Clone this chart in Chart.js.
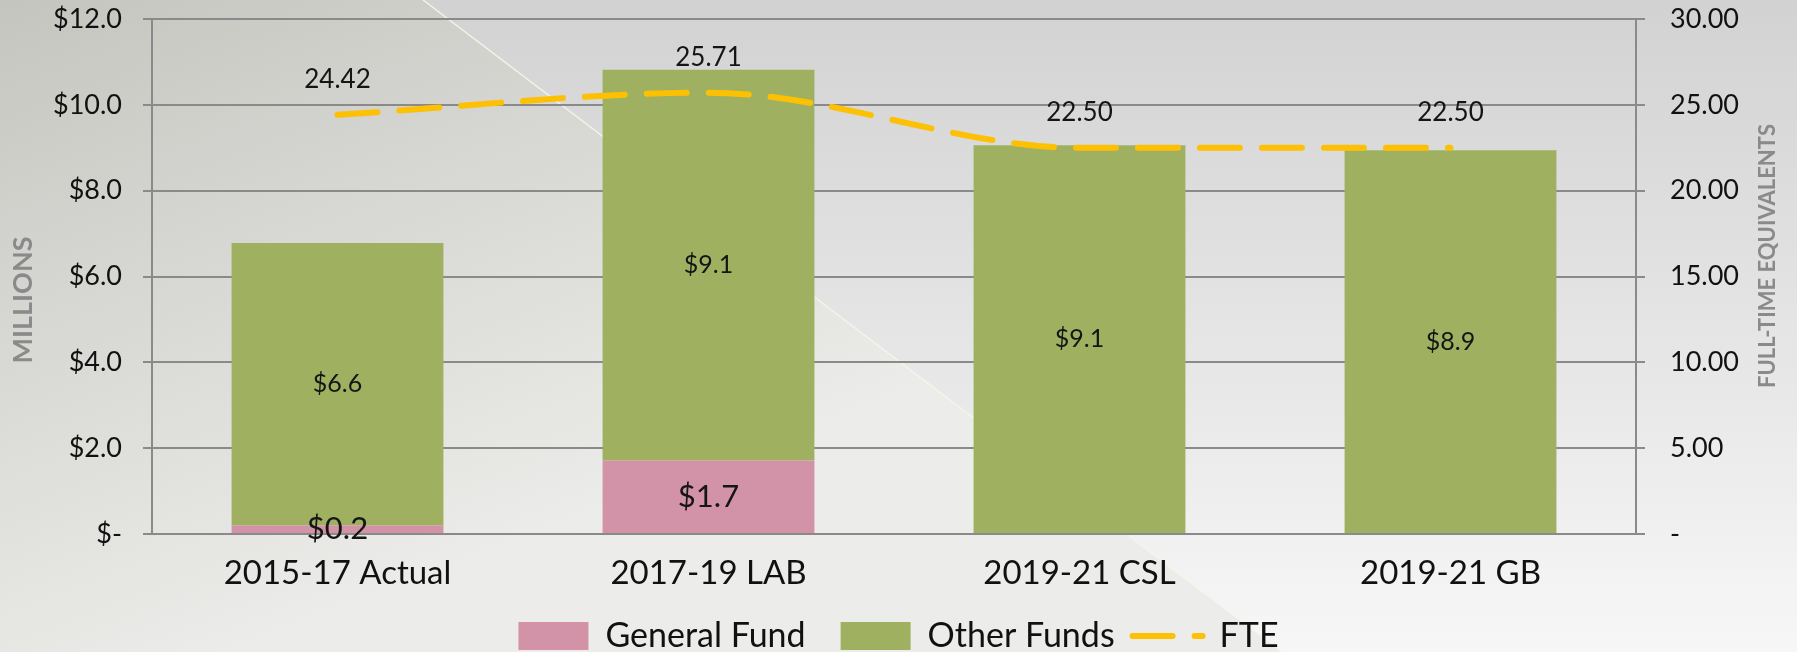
<!DOCTYPE html>
<html>
<head>
<meta charset="utf-8">
<script src="https://cdn.jsdelivr.net/npm/chart.js@4.4.1/dist/chart.umd.min.js"></script>
<style>
  html, body { margin: 0; padding: 0; background: #e6e6e3; }
  canvas { display: block; }
</style>
</head>
<body>
<canvas id="myChart" width="1797" height="652"></canvas>
<script>
// values (millions / FTE)
var categories = ["2015-17 Actual", "2017-19 LAB", "2019-21 CSL", "2019-21 GB"];
var generalFund = [0.2, 1.71, 0, 0];
var otherFunds = [6.58, 9.11, 9.06, 8.94];
var fte = [24.42, 25.71, 22.50, 22.50];
var moneyTicks = ["$-", "$2.0", "$4.0", "$6.0", "$8.0", "$10.0", "$12.0"];
var fteTicks = ["-", "5.00", "10.00", "15.00", "20.00", "25.00", "30.00"];

var FONT = "Lato, 'Open Sans', sans-serif";
var FTE_DASH = [40, 22];

// slide background: two gray panels split by a diagonal
var slideBackground = {
  id: "slideBackground",
  beforeDraw: function(chart) {
    var ctx = chart.ctx, w = chart.width, h = chart.height;
    ctx.save();
    var g1 = ctx.createLinearGradient(0, 0, 250, h);
    g1.addColorStop(0, "#c5c5c0");
    g1.addColorStop(1, "#ececea");
    ctx.fillStyle = g1;
    ctx.beginPath();
    ctx.moveTo(0, 0); ctx.lineTo(423, 0); ctx.lineTo(1282, h); ctx.lineTo(0, h);
    ctx.closePath();
    ctx.fill();
    var g2 = ctx.createLinearGradient(0, 0, 0, h);
    g2.addColorStop(0, "#d2d2d2");
    g2.addColorStop(1, "#f7f7f7");
    ctx.fillStyle = g2;
    ctx.beginPath();
    ctx.moveTo(423, 0); ctx.lineTo(w, 0); ctx.lineTo(w, h); ctx.lineTo(1282, h);
    ctx.closePath();
    ctx.fill();
    ctx.strokeStyle = "rgba(245,245,235,0.9)";
    ctx.lineWidth = 1.5;
    ctx.beginPath();
    ctx.moveTo(423, 0); ctx.lineTo(1282, h);
    ctx.stroke();
    ctx.restore();
  }
};

// data labels in the bars and above the FTE line
var valueLabels = {
  id: "valueLabels",
  afterDatasetsDraw: function(chart) {
    var ctx = chart.ctx;
    ctx.save();
    ctx.fillStyle = "#151515";
    ctx.textAlign = "center";
    ctx.textBaseline = "middle";
    chart.data.datasets.forEach(function(ds, i) {
      var meta = chart.getDatasetMeta(i);
      meta.data.forEach(function(el, j) {
        var v = ds.data[j];
        if (!v) return;
        if (meta.type === "bar") {
          ctx.font = (i === 0 ? 31 : 25) + "px " + FONT;
          var p = el.getProps(["x", "y", "base"], true);
          ctx.fillText("$" + v.toFixed(1), p.x, (p.y + p.base) / 2);
        } else {
          ctx.font = "26px " + FONT;
          ctx.fillText(v.toFixed(2), el.x, el.y - 35);
        }
      });
    });
    ctx.restore();
  }
};

// axis titles, both reading bottom to top
var axisTitles = {
  id: "axisTitles",
  afterDraw: function(chart) {
    var ctx = chart.ctx;
    ctx.save();
    ctx.fillStyle = "#8a8a8a";
    ctx.textAlign = "center";
    ctx.textBaseline = "middle";
    ctx.font = "bold 27px " + FONT;
    ctx.translate(23, 300);
    ctx.rotate(-Math.PI / 2);
    ctx.fillText("MILLIONS", 0, 0);
    ctx.restore();
    ctx.save();
    ctx.fillStyle = "#8a8a8a";
    ctx.textAlign = "center";
    ctx.textBaseline = "middle";
    ctx.font = "bold 22px " + FONT;
    ctx.translate(1768, 256);
    ctx.rotate(-Math.PI / 2);
    ctx.fillText("FULL-TIME EQUIVALENTS", 0, 0);
    ctx.restore();
  }
};

var ctx = document.getElementById("myChart").getContext("2d");
var myChart = new Chart(ctx, {
  type: "bar",
  data: {
    labels: categories,
    datasets: [
      {
        label: "General Fund",
        data: generalFund,
        backgroundColor: "#d292a7",
        yAxisID: "y",
        order: 1,
        pointStyle: "rect",
        barPercentage: 0.571,
        categoryPercentage: 1
      },
      {
        label: "Other Funds",
        data: otherFunds,
        backgroundColor: "#9fb160",
        yAxisID: "y",
        order: 1,
        pointStyle: "rect",
        barPercentage: 0.571,
        categoryPercentage: 1
      },
      {
        type: "line",
        label: "FTE",
        data: fte,
        yAxisID: "y1",
        order: 0,
        borderColor: "#ffc000",
        backgroundColor: "#ffc000",
        borderWidth: 6,
        borderDash: FTE_DASH,
        borderCapStyle: "round",
        cubicInterpolationMode: "monotone",
        pointRadius: 0,
        pointStyle: "line",
        fill: false
      }
    ]
  },
  options: {
    responsive: false,
    devicePixelRatio: 1,
    animation: false,
    layout: { padding: { top: 19, left: 0, right: 0, bottom: -11 } },
    plugins: {
      tooltip: { enabled: false },
      legend: {
        position: "bottom",
        labels: {
          usePointStyle: true,
          pointStyleWidth: 70,
          boxHeight: 28,
          padding: 1,
          color: "#111",
          font: { family: FONT, size: 34 },
          sort: function(a, b) { return a.datasetIndex - b.datasetIndex; },
          generateLabels: function(chart) {
            var items = Chart.defaults.plugins.legend.labels.generateLabels(chart);
            items.forEach(function(it) {
              if (it.datasetIndex === 0) {
                it.text = it.text + "\u2002\u2002";
              } else if (it.datasetIndex === 1) {
                it.text = it.text + "\u2002";
              } else {
                it.lineDash = FTE_DASH;
                it.lineWidth = 6;
                it.lineCap = "round";
                it.strokeStyle = "#ffc000";
              }
            });
            return items;
          }
        }
      }
    },
    scales: {
      x: {
        stacked: true,
        grid: { display: false, drawTicks: false },
        border: { display: true, color: "#8a8a8a", width: 2 },
        ticks: { color: "#111", font: { family: FONT, size: 33 }, padding: 20, maxRotation: 0 },
        afterFit: function(scale) { scale.height = 84; }
      },
      y: {
        stacked: true,
        position: "left",
        min: 0,
        max: 12,
        grid: { color: "#8a8a8a", lineWidth: 2, tickLength: 9 },
        border: { display: true, color: "#8a8a8a", width: 2 },
        ticks: {
          stepSize: 2,
          padding: 21,
          color: "#111",
          font: { family: FONT, size: 27 },
          callback: function(v, i) { return moneyTicks[i]; }
        },
        afterFit: function(scale) {
          scale.width = 152;
          scale.paddingTop = 0;
          scale.paddingBottom = 0;
        }
      },
      y1: {
        position: "right",
        min: 0,
        max: 30,
        grid: { drawOnChartArea: false, color: "#8a8a8a", lineWidth: 2, tickLength: 9 },
        border: { display: true, color: "#8a8a8a", width: 2 },
        ticks: {
          stepSize: 5,
          padding: 25,
          color: "#111",
          font: { family: FONT, size: 27 },
          callback: function(v, i) { return fteTicks[i]; }
        },
        afterFit: function(scale) {
          scale.width = 161;
          scale.paddingTop = 0;
          scale.paddingBottom = 0;
        }
      }
    }
  },
  plugins: [slideBackground, valueLabels, axisTitles]
});
</script>
</body>
</html>
